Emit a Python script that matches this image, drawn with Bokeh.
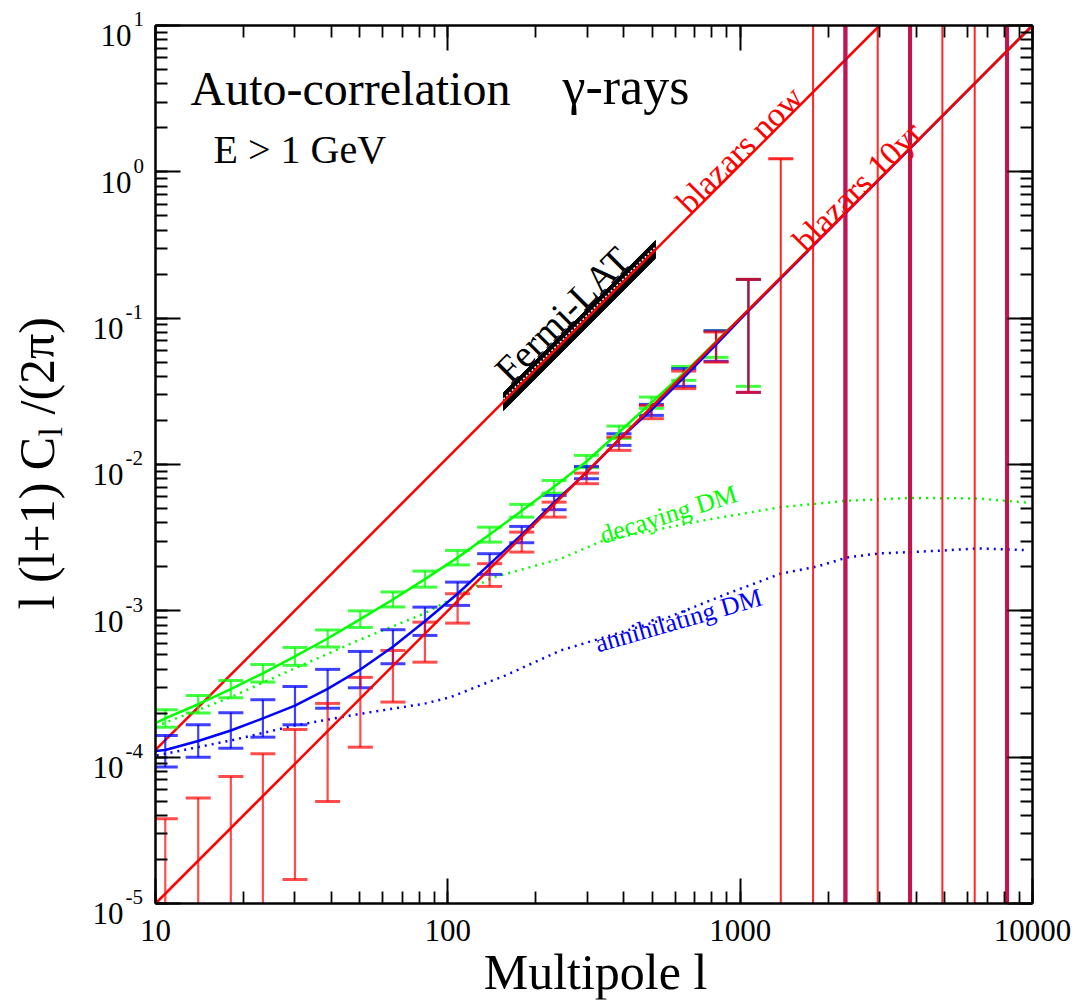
import math
from bokeh.plotting import figure
from bokeh.models import LogAxis, Label, CustomJSTickFormatter, Range1d, LogTicker
from bokeh.embed import file_html
from bokeh.resources import INLINE

NAN = float("nan")

# ---------------- data ----------------
ell = [10.8, 14.0, 18.1, 23.3, 30.0, 38.8, 50.2, 64.9, 83.5, 108, 139, 179, 231, 298,
       385, 497, 641, 827, 1067, 1377, 1776, 2291, 2955, 3812, 4917, 6343, 8183]

green_lo = [1.60e-4, 2.00e-4, 2.55e-4, 3.26e-4, 4.24e-4, 5.66e-4, 7.70e-4, 1.063e-3, 1.452e-3,
            2.06e-3, 2.95e-3, 4.37e-3, 6.37e-3, 9.51e-3, 1.508e-2, 2.42e-2, 3.76e-2, 5.4e-2, 3.42e-2,
            NAN, NAN, NAN, NAN, NAN, NAN, NAN, NAN]
green_hi = [2.11e-4, 2.64e-4, 3.34e-4, 4.30e-4, 5.62e-4, 7.40e-4, 1.00e-3, 1.346e-3, 1.868e-3,
            2.587e-3, 3.73e-3, 5.34e-3, 7.78e-3, 1.154e-2, 1.83e-2, 2.89e-2, 4.68e-2, 8.2e-2, 0.184,
            NAN, NAN, NAN, NAN, NAN, NAN, NAN, NAN]

blue_lo = [8.55e-5, 1.0e-4, 1.152e-4, 1.37e-4, 1.665e-4, 2.16e-4, 2.98e-4, 4.35e-4, 6.79e-4,
           1.089e-3, 1.774e-3, 2.92e-3, 4.91e-3, 7.995e-3, 1.351e-2, 2.166e-2, 3.42e-2, 5.07e-2, 3.11e-2,
           NAN, NAN, 1e-8, NAN, 1e-8, NAN, NAN, 1e-8]
blue_hi = [1.407e-4, 1.665e-4, 2.01e-4, 2.47e-4, 3.04e-4, 3.98e-4, 5.28e-4, 7.43e-4, 1.06e-3,
           1.571e-3, 2.457e-3, 3.775e-3, 6.15e-3, 9.70e-3, 1.623e-2, 2.575e-2, 4.52e-2, 8.2e-2, 0.184,
           NAN, NAN, 1e3, NAN, 1e3, NAN, NAN, 1e3]

red_lo = [1e-8, 1e-8, 1e-8, 1e-8, 1.46e-5, 4.98e-5, 1.17e-4, 2.38e-4, 4.46e-4,
          8.24e-4, 1.468e-3, 2.52e-3, 4.37e-3, 7.39e-3, 1.249e-2, 2.056e-2, 3.30e-2, 5.01e-2, 3.11e-2,
          1e-8, 1e-8, 1e-8, 1e-8, 1e-8, 1e-8, 1e-8, 1e-8]
red_hi = [3.79e-5, 5.25e-5, 7.38e-5, 1.055e-4, 1.546e-4, 2.33e-4, 3.51e-4, 5.36e-4, 8.37e-4,
          1.309e-3, 2.10e-3, 3.45e-3, 5.53e-3, 8.73e-3, 1.539e-2, 2.535e-2, 4.35e-2, 8.04e-2, 0.184,
          1.23, 1e3, 1e3, 1e3, 1e3, 1e3, 1e3, 1e3]

curve_ell = [10, 10.8, 14.0, 18.1, 23.3, 30.0, 38.8, 50.2, 64.9, 83.5, 108, 139, 179, 231, 298,
             385, 497, 641, 827, 1067, 10000]
green_curve = [1.71e-4, 1.84e-4, 2.30e-4, 2.92e-4, 3.74e-4, 4.88e-4, 6.47e-4, 8.77e-4, 1.196e-3,
               1.647e-3, 2.31e-3, 3.32e-3, 4.83e-3, 7.04e-3, 1.048e-2, 1.66e-2, 2.645e-2, 4.2e-2,
               6.9e-2, 0.114, 10.0]
blue_curve = [1.10e-4, 1.12e-4, 1.29e-4, 1.522e-4, 1.84e-4, 2.25e-4, 2.93e-4, 3.97e-4, 5.69e-4,
              8.48e-4, 1.308e-3, 2.088e-3, 3.32e-3, 5.50e-3, 8.81e-3, 1.481e-2, 2.36e-2, 3.93e-2,
              6.6e-2, 0.112, 10.0]

decay_ell = [10, 18.1, 29.9, 50.3, 83.2, 116.5, 143, 243, 341, 749, 1375, 2325, 3828, 6474, 9850]
decay_val = [1.62e-4, 2.57e-4, 4.04e-4, 6.38e-4, 9.60e-4, 1.378e-3, 1.692e-3, 2.27e-3, 3.03e-3,
             4.15e-3, 5.11e-3, 5.65e-3, 5.91e-3, 5.86e-3, 5.47e-3]

annih_ell = [10.1, 18.1, 30.0, 50.3, 82.9, 102, 157.5, 243, 534, 903, 1375, 1836, 2325, 3006,
             3828, 5004, 6474, 9700]
annih_val = [1.027e-4, 1.30e-4, 1.647e-4, 1.98e-4, 2.317e-4, 2.57e-4, 3.62e-4, 5.36e-4, 8.60e-4,
             1.309e-3, 1.793e-3, 2.01e-3, 2.317e-3, 2.47e-3, 2.52e-3, 2.587e-3, 2.67e-3, 2.6e-3]

blazars_now_ell = [10, 3000]
blazars_now_val = [1.12e-4, 10.0]
blazars_10yr_ell = [10, 10000]
blazars_10yr_val = [1e-5, 10.0]

fermi_ell = [155, 513]
fermi_lo = [0.02335, 0.2559]
fermi_hi = [0.0310, 0.3396]

x_tick_values = [10, 100, 1000, 10000]
x_tick_text = ["10", "100", "1000", "10000"]
y_tick_exponents = [-5, -4, -3, -2, -1, 0, 1]

# ---------------- geometry ----------------
AL, AT, AW, AH = 155, 25, 877, 878      # axes box in canvas pixels
XMIN, XMAX, YMIN, YMAX = 10, 10000, 1e-5, 10
PXD = AW / 3.0
PYD = AH / 6.0
B = 4
W, H = 1079, 1003
SERIF = "Liberation Serif"
MID = 0.34   # distance from baseline to text middle, in em


def lx(px):
    return 10 ** (math.log10(XMIN) + (px - AL) / PXD)


def vy(py):
    return 10 ** (math.log10(YMIN) + (AT + AH - py) / PYD)


p = figure(x_axis_type="log", y_axis_type="log",
           x_range=Range1d(lx(B), lx(W - B)), y_range=Range1d(vy(H - B), vy(B)),
           frame_width=W - 2 * B, frame_height=H - 2 * B,
           min_border_left=B, min_border_right=B, min_border_top=B, min_border_bottom=B,
           toolbar_location=None, output_backend="svg",
           background_fill_color="white", border_fill_color="white")
p.grid.visible = False
p.outline_line_color = None

empty = CustomJSTickFormatter(code="return '';")


def style(ax, loc, bounds):
    ax.fixed_location = loc
    ax.bounds = bounds
    ax.formatter = empty
    ax.major_label_text_font_size = "0px"
    ax.major_label_standoff = 0
    ax.axis_label_standoff = 0
    ax.axis_line_width = 2.5
    ax.axis_line_color = "black"
    ax.major_tick_in = 25
    ax.major_tick_out = 0
    ax.minor_tick_in = 12
    ax.minor_tick_out = 0
    ax.major_tick_line_width = 2
    ax.minor_tick_line_width = 1.8
    ax.major_tick_line_color = "black"
    ax.minor_tick_line_color = "black"


xa = p.xaxis[0]
xa.ticker = LogTicker(desired_num_ticks=4, num_minor_ticks=10)
style(xa, YMIN, (XMIN, XMAX))
ya = p.yaxis[0]
ya.ticker = LogTicker(desired_num_ticks=8, num_minor_ticks=10)
style(ya, XMIN, (YMIN, YMAX))

top = LogAxis(ticker=LogTicker(desired_num_ticks=4, num_minor_ticks=10))
style(top, YMAX, (XMIN, XMAX))
p.add_layout(top, "above")
right = LogAxis(ticker=LogTicker(desired_num_ticks=8, num_minor_ticks=10))
style(right, XMAX, (YMIN, YMAX))
p.add_layout(right, "right")

# ---------------- model curves ----------------
p.line(decay_ell, decay_val, line_color="#00ff00", line_width=2.5, line_dash="2 5")
p.line(annih_ell, annih_val, line_color="#0000ff", line_width=2.5, line_dash="2 5")

p.patch([fermi_ell[0], fermi_ell[1], fermi_ell[1], fermi_ell[0]],
        [fermi_hi[0], fermi_hi[1], fermi_lo[1], fermi_lo[0]],
        fill_color="black", line_color="black", line_width=1)
mid = [math.sqrt(a * b) * 1.04 for a, b in zip(fermi_lo, fermi_hi)]
p.line(fermi_ell, mid, line_color="white", line_width=1.5, line_dash="2 2")

p.line(blazars_now_ell, blazars_now_val, line_color="#ff0000", line_width=2.5)

# ---------------- error bars (clipped to the axes box) ----------------
CAP = 10 ** (12.5 / PXD)


def bars(lo, hi, color, width, alpha, idx):
    xs = [ell[i] for i in idx]
    y0 = [max(lo[i], YMIN) for i in idx]
    y1 = [min(hi[i], YMAX) for i in idx]
    p.segment(x0=xs, y0=y0, x1=xs, y1=y1, line_color=color, line_width=width, line_alpha=alpha)
    cx, cy = [], []
    for i in idx:
        for v in (lo[i], hi[i]):
            if YMIN <= v <= YMAX:
                cx.append(ell[i])
                cy.append(v)
    p.segment(x0=[max(XMIN, x / CAP) for x in cx], y0=cy,
              x1=[min(XMAX, x * CAP) for x in cx], y1=cy,
              line_color=color, line_width=3, line_alpha=alpha)


def ok(v):
    return not math.isnan(v)


n = len(ell)
g_idx = [i for i in range(n) if ok(green_lo[i])]
b_idx = [i for i in range(n) if ok(blue_lo[i]) and ell[i] < 1200]
b_wide = [i for i in range(n) if ok(blue_lo[i]) and ell[i] >= 1200]
r_idx = [i for i in range(n) if ell[i] < 1200]
r_wide = [i for i in range(n) if ell[i] >= 1200 and i in b_wide]
r_thin = [i for i in range(n) if ell[i] >= 1200 and i not in b_wide]

bars(green_lo, green_hi, "#00ff00", 2.2, 0.75, g_idx)
bars(blue_lo, blue_hi, "#0000ff", 2.2, 0.75, b_idx)
bars(blue_lo, blue_hi, "#0000ff", 4, 0.75, b_wide)
bars(red_lo, red_hi, "#ff0000", 2.2, 0.7, r_idx)
bars(red_lo, red_hi, "#ff0000", 4, 0.7, r_wide)
bars(red_lo, red_hi, "#ff0000", 2, 0.85, r_thin)

p.line(curve_ell, green_curve, line_color="#00ff00", line_width=2.5)
p.line(curve_ell, blue_curve, line_color="#0000ff", line_width=2.5)
p.line(blazars_10yr_ell, blazars_10yr_val, line_color="#ff0000", line_width=2.5)


# ---------------- texts ----------------
def add_label(x, y, text, size, color="black", align="left", angle=0.0):
    p.add_layout(Label(x=x, y=y, text=text,
                       text_font=SERIF, text_font_size=f"{size}px", text_color=color,
                       text_align=align, text_baseline="middle", angle=angle))


def base_text(px, py, text, size, color="black", align="left"):
    """horizontal text whose baseline sits at canvas pixel row py"""
    add_label(lx(px), vy(py - MID * size), text, size, color, align)


def vert_text(px, py, text, size):
    """text rotated 90 deg, baseline at canvas column px, starting at row py"""
    add_label(lx(px - MID * size), vy(py), text, size, angle=math.pi / 2)


# x tick labels
for v, t in zip(x_tick_values, x_tick_text):
    add_label(v, vy(941 - MID * 31), t, 31, align="center")

# y tick labels: "10" with a raised exponent
for e in y_tick_exponents:
    py_t = AT + AH - (e + 5) * PYD
    r10, el = (131, 133) if e >= 0 else (123, 125)
    base_text(r10, py_t + 21, "10", 31, align="right")
    base_text(el, py_t + 1, str(e), 21, align="left")

# axis titles
vert_text(53, 609, "l (l+1) C", 50)
vert_text(62, 436, "l", 34)
vert_text(53, 414, "/(2\u03c0)", 50)
base_text(595, 988, "Multipole l", 50, align="center")

# in-plot annotations
base_text(190, 104, "Auto-correlation", 48)
base_text(562, 104, "\u03b3-rays", 52)
base_text(213, 163, "E > 1 GeV", 40)

add_label(lx(562), vy(314), "Fermi-LAT", 38, align="center", angle=math.pi / 4)
add_label(lx(739), vy(149), "blazars now", 34, color="#ff0000", align="center", angle=math.pi / 4)
add_label(lx(857), vy(186), "blazars 10yr", 34, color="#ff0000", align="center", angle=math.pi / 4)
add_label(lx(668), vy(514), "decaying DM", 26, color="#00ff00", align="center",
          angle=math.radians(17.5))
add_label(lx(678), vy(620), "annihilating DM", 26, color="#0000ff", align="center",
          angle=math.radians(16))

open("out.html", "w").write(file_html(p, INLINE))
